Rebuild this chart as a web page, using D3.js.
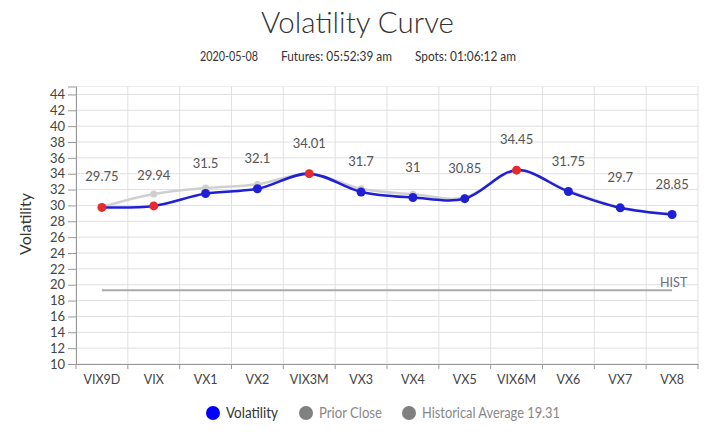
<!DOCTYPE html>
<html><head><meta charset="utf-8">
<script src="https://cdn.jsdelivr.net/npm/d3@7"></script>
<style>
body{margin:0;background:#fff;}
svg{display:block;font-family:"Lato","Open Sans",sans-serif;}
</style></head>
<body>
<svg id="c" width="712" height="436"></svg>
<script>
const categories = ["VIX9D","VIX","VX1","VX2","VIX3M","VX3","VX4","VX5","VIX6M","VX6","VX7","VX8"];
const volatility = [29.75,29.94,31.5,32.1,34.01,31.7,31,30.85,34.45,31.75,29.7,28.85];
const priorClose = [29.8,31.45,32.2,32.65,34.0,32.1,31.4,31.0,34.4,31.85,29.75,28.9];
const spotIndex = [true,true,false,false,true,false,false,false,true,false,false,false];
const histAverage = 19.31;
const yTicks = [10,12,14,16,18,20,22,24,26,28,30,32,34,36,38,40,42,44];
const legendItems = ["Volatility","Prior Close","Historical Average 19.31"];

const svg = d3.select("#c");
const L = 76, R = 698, T = 86.5, B = 364;
const x = d3.scaleBand().domain(categories).range([L, R]);
const y = d3.scaleLinear().domain([10, 45]).range([B, T]);
const cx = d => x(d) + x.bandwidth()/2;

// fit text to a measured width (only shrinks/stretches slightly)
function fit(sel, w){ sel.attr("textLength", w).attr("lengthAdjust","spacingAndGlyphs"); return sel; }

// title
fit(svg.append("text").attr("x",261).attr("y",33)
  .attr("font-size",30).attr("font-weight",300).attr("fill","#333").text("Volatility Curve"), 193);
[["2020-05-08",200,58],["Futures: 05:52:39 am",281,111],["Spots: 01:06:12 am",415,101]].forEach(([t,xx,w])=>{
  fit(svg.append("text").attr("x",xx).attr("y",61).attr("font-size",12.5).attr("fill","#333").text(t), w);
});

// grid
const g = svg.append("g");
g.selectAll("line.hg").data(yTicks.concat([45])).join("line")
  .attr("x1",L).attr("x2",R).attr("y1",d=>y(d)).attr("y2",d=>y(d))
  .attr("stroke", d=> d===45 ? "#eee" : "#e0e0e0").attr("stroke-width",1);
const bounds = categories.map(c=>x(c)).concat([R]);
g.selectAll("line.vg").data(bounds).join("line")
  .attr("x1",d=>d).attr("x2",d=>d).attr("y1",T).attr("y2",B)
  .attr("stroke","#e0e0e0");

// axes
const yAxis = svg.append("g").attr("transform",`translate(${L},0)`)
  .call(d3.axisLeft(y).tickValues(yTicks).tickSize(8).tickPadding(3));
yAxis.select(".domain").attr("stroke","#999");
yAxis.selectAll(".tick line").attr("stroke","#999");
yAxis.selectAll("text").attr("font-size",13).attr("fill","#444").attr("font-family","Lato, sans-serif");

const xAxis = svg.append("g").attr("transform",`translate(0,${B})`)
  .call(d3.axisBottom(x).tickSize(0).tickPadding(11));
xAxis.select(".domain").attr("stroke","#999");
xAxis.selectAll("text").attr("font-size",12.5).attr("fill","#444").attr("font-family","Lato, sans-serif");
svg.append("g").selectAll("line").data(bounds).join("line")
  .attr("x1",d=>d).attr("x2",d=>d).attr("y1",B).attr("y2",B+5).attr("stroke","#999");

svg.append("text").attr("transform",`translate(31,224) rotate(-90)`).attr("text-anchor","middle")
  .attr("font-size",16).attr("fill","#333").text("Volatility");

// hist line
svg.append("line").attr("x1",cx(categories[0])).attr("x2",cx(categories[categories.length-1]))
  .attr("y1",y(histAverage)).attr("y2",y(histAverage)).attr("stroke","#aaa").attr("stroke-width",2);
svg.append("text").attr("x",cx(categories[categories.length-1])-12).attr("y",y(histAverage)-3)
  .attr("font-size",12.5).attr("fill","#6e6a86").text("HIST");

const line = d3.line().x((d,i)=>cx(categories[i])).y(d=>y(d)).curve(d3.curveCatmullRom.alpha(0.5));

// prior close
svg.append("path").attr("d",line(priorClose)).attr("fill","none").attr("stroke","#d0d0d0").attr("stroke-width",2.5);
svg.append("g").selectAll("circle").data(priorClose).join("circle")
  .attr("cx",(d,i)=>cx(categories[i])).attr("cy",d=>y(d)).attr("r",3.5).attr("fill","#cfcfcf");

// volatility
svg.append("path").attr("d",line(volatility)).attr("fill","none").attr("stroke","#1f1fd6").attr("stroke-width",2.5);
svg.append("g").selectAll("circle").data(volatility).join("circle")
  .attr("cx",(d,i)=>cx(categories[i])).attr("cy",d=>y(d)).attr("r",4.5)
  .attr("fill",(d,i)=>spotIndex[i] ? "#e52b2b" : "#1f1fd6");

// labels
svg.append("g").selectAll("text").data(volatility).join("text")
  .attr("x",(d,i)=>cx(categories[i])).attr("y",d=>y(d)-26).attr("text-anchor","middle")
  .attr("font-size",13).attr("fill","#555").text(d=>d);

// legend
const legX = [213, 306, 409];
const legW = [52, 63, 138];
const legColors = ["#0000ff","#808080","#808080"];
const legText = ["#333","#888","#888"];
legendItems.forEach((t,i)=>{
  svg.append("circle").attr("cx",legX[i]).attr("cy",413).attr("r",7).attr("fill",legColors[i]);
  fit(svg.append("text").attr("x",legX[i]+13).attr("y",418).attr("font-size",14.5).attr("fill",legText[i]).text(t), legW[i]);
});
</script>
</body></html>
